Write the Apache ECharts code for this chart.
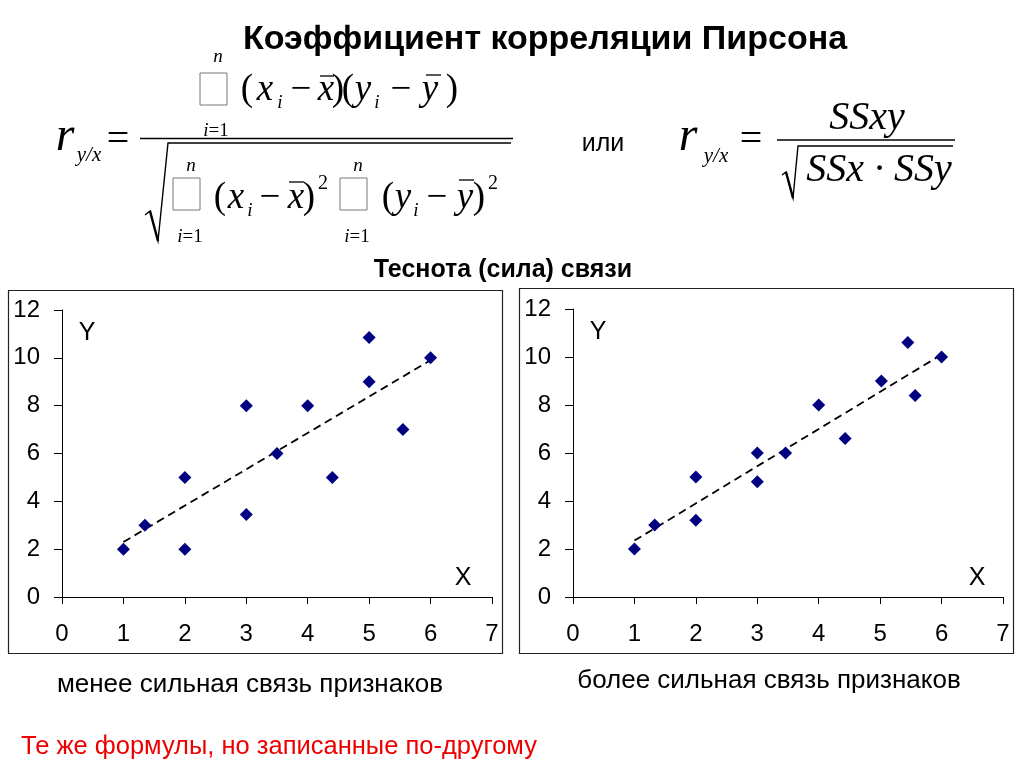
<!DOCTYPE html>
<html>
<head>
<meta charset="utf-8">
<script src="https://cdn.jsdelivr.net/npm/echarts@6/dist/echarts.min.js"></script>
<style>
html,body{margin:0;padding:0;background:#fff;}
#c{width:1024px;height:768px;}
</style>
</head>
<body>
<div id="c"></div>
<script>
// ---- data ----
const weakX = [1, 1.35, 2, 2, 3, 3, 3.5, 4, 4.4, 5, 5, 5.55, 6];
const weakY = [2, 3, 5, 2, 8, 3.45, 6, 8, 5, 10.85, 9, 7, 10];
const strongX = [1, 1.33, 2, 2, 3, 3, 3.46, 4, 4.43, 5.02, 5.45, 5.57, 6];
const strongY = [2, 3, 5, 3.2, 6, 4.8, 6, 8, 6.6, 9, 10.6, 8.4, 10];
const weakTrendX = [1, 6];
const weakTrendY = [2.3, 9.9];
const strongTrendX = [1, 6];
const strongTrendY = [2.35, 10.1];
const xTickRange = [0, 7];
const yTickRange = [0, 12];

const titleText = 'Коэффициент корреляции Пирсона';
const subTitleText = 'Теснота (сила) связи';
const weakCaption = 'менее сильная связь признаков';
const strongCaption = 'более сильная связь признаков';
const noteText = 'Те же формулы, но записанные по-другому';
const orText = 'или';

const zip = (a, b) => a.map((v, i) => [v, b[i]]);

const SERIF = '"Liberation Serif", "Times New Roman", serif';
const SANS = '"Liberation Sans", Arial, sans-serif';

const els = [];
function txt(t, x, y, size, opts) {
  opts = opts || {};
  els.push({
    type: 'text', x: x, y: y, z: 10,
    style: {
      text: t,
      font: (opts.bold ? 'bold ' : '') + (opts.italic ? 'italic ' : '') + size + 'px ' + (opts.family || SERIF),
      fill: opts.color || '#000',
      align: opts.align || 'center',
      verticalAlign: 'middle'
    }
  });
}
// glyph placed by baseline
function gl(t, cx, base, size, italic) {
  txt(t, cx, base - 0.3 * size, size, { italic: italic });
}
function idx(cx, base) {
  els.push({
    type: 'text', x: cx, y: base - 6, z: 10,
    style: {
      text: '{a|i}{b|=1}',
      align: 'center', verticalAlign: 'middle', fill: '#000',
      rich: {
        a: { font: 'italic 19px ' + SERIF, fill: '#000' },
        b: { font: '19px ' + SERIF, fill: '#000' }
      }
    }
  });
}
function line(x1, y1, x2, y2, w) {
  els.push({ type: 'line', z: 10, shape: { x1: x1, y1: y1, x2: x2, y2: y2 }, style: { stroke: '#000', lineWidth: w || 1.3 } });
}
function poly(pts, w) {
  els.push({ type: 'polyline', z: 10, shape: { points: pts }, style: { stroke: '#000', lineWidth: w || 1.3, fill: null } });
}
function box(x, y, w, h) {
  els.push({ type: 'rect', z: 10, shape: { x: x, y: y, width: w, height: h }, style: { stroke: '#777', lineWidth: 1, fill: null } });
}

// Title
txt(titleText, 545, 40, 34, { bold: true, family: SANS });
txt(subTitleText, 503, 270, 25, { bold: true, family: SANS });

// ---- left formula ----
gl('r', 65, 152, 48, true);
gl('y/x', 89, 162, 21, true);
txt('=', 118, 140, 40, {});
line(140, 138.5, 513, 138.5, 1.4);
// numerator
box(200, 73, 27, 32);
gl('n', 218, 63, 19, true);
idx(216, 137);
const NB = 101, S = 37;
gl('(', 247, NB, S); gl('x', 265, NB, S, true); gl('i', 280, NB + 8, 19, true);
gl('\u2212', 301, NB, S); gl('x', 326, NB, S, true); line(320, 76, 334, 76, 1.3);
gl(')', 338, NB, S); gl('(', 348, NB, S); gl('y', 363, NB, S, true); gl('i', 377, NB + 8, 19, true);
gl('\u2212', 401, NB, S); gl('y', 430, NB, S, true); line(426, 75, 441, 75, 1.3);
gl(')', 452, NB, S);
// sqrt
poly([[145, 215], [150, 211], [158, 241], [168, 143], [511, 143]], 1.4);
line(150, 211, 158, 241, 2.4);
// denominator
const DB = 209;
box(173, 178, 27, 32); gl('n', 191, 172, 19, true); idx(190, 243);
gl('(', 220, DB, S); gl('x', 236, DB, S, true); gl('i', 250, DB + 8, 19, true);
gl('\u2212', 270, DB, S); gl('x', 296, DB, S, true); line(289, 182, 304, 182, 1.3);
gl(')', 309, DB, S); gl('2', 323, 190, 20);
box(340, 178, 27, 32); gl('n', 358, 172, 19, true); idx(357, 243);
gl('(', 388, DB, S); gl('y', 403, DB, S, true); gl('i', 416, DB + 8, 19, true);
gl('\u2212', 437, DB, S); gl('y', 465, DB, S, true); line(459, 180, 474, 180, 1.3);
gl(')', 479, DB, S); gl('2', 493, 190, 20);

// ---- right formula ----
txt(orText, 603, 144, 25, { family: SANS });
gl('r', 688, 152, 48, true);
gl('y/x', 716, 163, 21, true);
txt('=', 751, 140, 40, {});
line(777, 140, 955, 140, 1.4);
gl('SSxy', 867, 130, 40, true);
poly([[782, 175], [786, 172], [793, 198], [798, 146], [953, 146]], 1.4);
line(786, 172, 793, 198, 2.4);
gl('SSx \u00B7 SSy', 879, 182, 40, true);

// chart frames
els.push({ type: 'rect', z: 0, shape: { x: 8.5, y: 290.5, width: 494, height: 363 }, style: { stroke: '#222', lineWidth: 1.2, fill: null } });
els.push({ type: 'rect', z: 0, shape: { x: 519.5, y: 288.5, width: 494, height: 365 }, style: { stroke: '#222', lineWidth: 1.2, fill: null } });

// axis letters
txt('Y', 87, 333, 25, { family: SANS });
txt('X', 463, 578, 25, { family: SANS });
txt('Y', 598, 332, 25, { family: SANS });
txt('X', 977, 578, 25, { family: SANS });

// captions
txt(weakCaption, 250, 685, 26, { family: SANS });
txt(strongCaption, 769, 681, 26, { family: SANS });
txt(noteText, 21, 747, 25.5, { family: SANS, align: 'left', color: '#ee0000' });

function xAxis(gi) {
  return {
    type: 'value', gridIndex: gi, min: xTickRange[0], max: xTickRange[1], interval: 1,
    axisLine: { show: true, onZero: false, lineStyle: { color: '#000', width: 1 } },
    axisTick: { show: true, length: 7, lineStyle: { color: '#000' } },
    axisLabel: { color: '#000', fontSize: 24, fontFamily: SANS, margin: 25 },
    splitLine: { show: false }
  };
}
function yAxis(gi) {
  return {
    type: 'value', gridIndex: gi, min: yTickRange[0], max: yTickRange[1], interval: 2,
    axisLine: { show: true, onZero: false, lineStyle: { color: '#000', width: 1 } },
    axisTick: { show: true, length: 8, lineStyle: { color: '#000' } },
    axisLabel: { color: '#000', fontSize: 24, fontFamily: SANS, margin: 22 },
    splitLine: { show: false }
  };
}
const markerColor = '#000080';
const option = {
  animation: false,
  backgroundColor: '#fff',
  grid: [
    { left: 62, top: 310, width: 430, height: 287 },
    { left: 573, top: 309, width: 430, height: 288 }
  ],
  xAxis: [xAxis(0), xAxis(1)],
  yAxis: [yAxis(0), yAxis(1)],
  series: [
    { type: 'line', xAxisIndex: 0, yAxisIndex: 0, data: zip(weakTrendX, weakTrendY), symbol: 'none',
      lineStyle: { color: '#000', width: 1.8, type: [8, 5] }, z: 1 },
    { type: 'scatter', xAxisIndex: 0, yAxisIndex: 0, data: zip(weakX, weakY), symbol: 'diamond', symbolSize: 13,
      itemStyle: { color: markerColor, opacity: 1 }, z: 2 },
    { type: 'line', xAxisIndex: 1, yAxisIndex: 1, data: zip(strongTrendX, strongTrendY), symbol: 'none',
      lineStyle: { color: '#000', width: 1.8, type: [8, 5] }, z: 1 },
    { type: 'scatter', xAxisIndex: 1, yAxisIndex: 1, data: zip(strongX, strongY), symbol: 'diamond', symbolSize: 13,
      itemStyle: { color: markerColor, opacity: 1 }, z: 2 }
  ],
  graphic: { elements: els }
};
const chart = echarts.init(document.getElementById('c'));
chart.setOption(option);
</script>
</body>
</html>
